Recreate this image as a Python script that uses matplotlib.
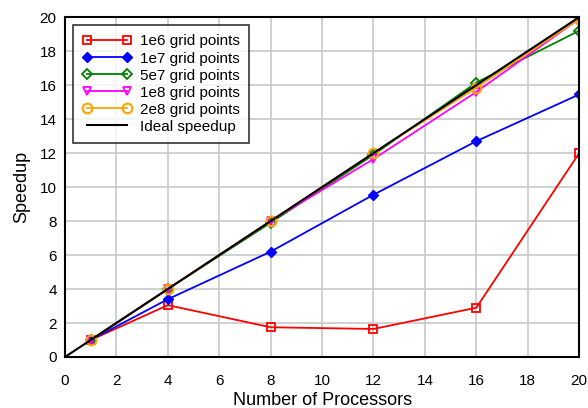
import matplotlib
matplotlib.use("Agg")
import matplotlib.pyplot as plt

plt.rcParams['font.family'] = ['Liberation Sans', 'DejaVu Sans']

procs = [1, 4, 8, 12, 16, 20]
s_1e6 = [1.0, 3.05, 1.75, 1.65, 2.9, 12.0]
s_1e7 = [1.0, 3.4, 6.2, 9.55, 12.7, 15.45]
s_5e7 = [1.0, 4.0, 7.9, 11.9, 16.15, 19.2]
s_1e8 = [1.0, 4.0, 8.0, 11.65, 15.6, 19.9]
s_2e8 = [1.0, 4.0, 8.0, 12.0, 15.85, 19.9]
ideal_x = [0, 20]
ideal_y = [0, 20]

fig = plt.figure(figsize=(5.88, 4.08), dpi=100)
ax = fig.add_axes([0.1105, 0.125, 0.8745, 0.833])

ax.plot(procs, s_1e6, color='red', marker='s', mfc='none', mec='red', ms=6, mew=1.3, lw=1.3, label='1e6 grid points')
ax.plot(procs, s_1e7, color='blue', marker='D', mfc='blue', mec='blue', ms=5, lw=1.3, label='1e7 grid points')
ax.plot(procs, s_5e7, color='green', marker='D', mfc='none', mec='green', ms=5, mew=1.3, lw=1.3, label='5e7 grid points')
ax.plot(procs, s_1e8, color='magenta', marker='v', mfc='none', mec='magenta', ms=6, mew=1.3, lw=1.3, label='1e8 grid points')
ax.plot(procs, s_2e8, color='orange', marker='o', mfc='none', mec='orange', ms=7, mew=1.5, lw=1.3, label='2e8 grid points')
ax.plot(ideal_x, ideal_y, color='black', lw=1.5, label='Ideal speedup')

ax.set_xlim(0, 20)
ax.set_ylim(0, 20)
ax.set_xticks(range(0, 21, 2))
ax.set_yticks(range(0, 21, 2))
ax.grid(True, color='#c8c8c8', lw=1.2)
ax.set_axisbelow(True)
for sp in ax.spines.values():
    sp.set_linewidth(1.5)
ax.tick_params(direction='in', length=0, labelsize=11, pad=6)
ax.tick_params(axis='x', pad=12)
ax.set_xlabel('Number of Processors', fontsize=13, labelpad=3)
ax.set_ylabel('Speedup', fontsize=13, labelpad=7)

leg = ax.legend(loc='upper left', bbox_to_anchor=(0.01, 0.985), fontsize=11, frameon=True,
                fancybox=False, edgecolor='black', handlelength=3.2, handletextpad=0.6,
                numpoints=2, borderpad=0.6, labelspacing=0.2, borderaxespad=0.2)
leg.get_frame().set_linewidth(1.2)

fig.savefig('out.png', dpi=100)
